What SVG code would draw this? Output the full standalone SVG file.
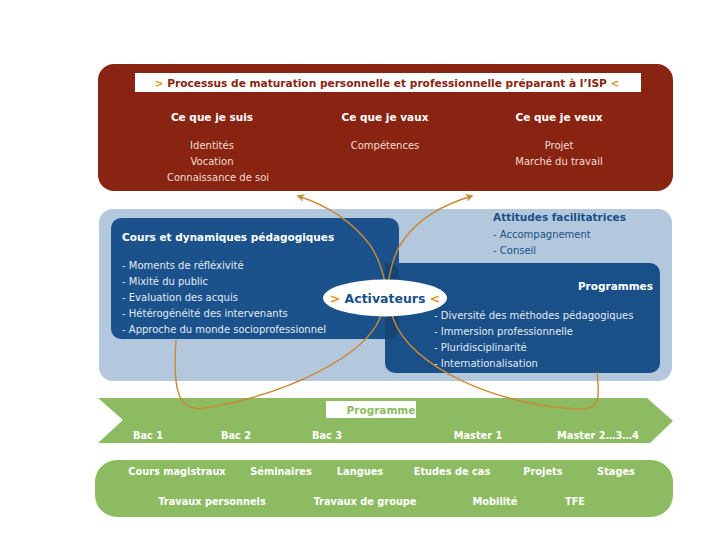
<svg xmlns="http://www.w3.org/2000/svg" width="720" height="540" viewBox="0 0 720 540">
<defs>
<marker id="arr" viewBox="0 0 10 10" refX="8" refY="5" markerWidth="8" markerHeight="8" markerUnits="userSpaceOnUse" orient="auto">
<path d="M0,0 L10,5 L0,10 L3,5 Z" fill="#c98a35"/>
</marker>
<style>
text{font-family:"DejaVu Sans","Verdana",sans-serif;}
.hb{font-weight:bold;font-size:10.5px;fill:#ffffff;}
.ir{font-size:10px;fill:#f2dcd2;}
.ib{font-size:10px;fill:#e2eaf3;}
.g{font-weight:bold;font-size:9.8px;fill:#ffffff;}
.or{fill:#e0962e;}
.curve{fill:none;stroke:#c98a35;stroke-width:1.4;}
</style>
</defs>
<rect width="720" height="540" fill="#ffffff"/>

<g id="maturation">
<rect x="98" y="64" width="575" height="127" rx="16" fill="#8a2412"/>
<rect x="135" y="73" width="506" height="19" fill="#ffffff"/>
<text x="387" y="87" text-anchor="middle" font-weight="bold" font-size="10.6" fill="#8a2412"><tspan class="or">&gt;</tspan> Processus de maturation personnelle et professionnelle préparant à l’ISP <tspan class="or">&lt;</tspan></text>
<text class="hb" x="212" y="121" text-anchor="middle">Ce que je suis</text>
<text class="hb" x="385" y="121" text-anchor="middle">Ce que je vaux</text>
<text class="hb" x="559" y="121" text-anchor="middle">Ce que je veux</text>
<text class="ir" x="212" y="149" text-anchor="middle">Identités</text>
<text class="ir" x="212" y="165" text-anchor="middle">Vocation</text>
<text class="ir" x="218" y="181" text-anchor="middle">Connaissance de soi</text>
<text class="ir" x="385" y="149" text-anchor="middle">Compétences</text>
<text class="ir" x="559" y="149" text-anchor="middle">Projet</text>
<text class="ir" x="559" y="165" text-anchor="middle">Marché du travail</text>
</g>

<g id="activateurs-zone">
<rect x="99" y="209" width="573" height="172" rx="14" fill="#b3c8dc"/>
</g>

<g id="attitudes">
<text x="493" y="221" font-weight="bold" font-size="10.5" fill="#1a5088">Attitudes facilitatrices</text>
<text x="493" y="238" font-size="10" fill="#1a5088">- Accompagnement</text>
<text x="493" y="254" font-size="10" fill="#1a5088">- Conseil</text>
</g>

<g id="programmes">
<rect x="385" y="263" width="275" height="110" rx="10" fill="#1a5088"/>
<text class="hb" x="653" y="290" text-anchor="end">Programmes</text>
<text class="ib" x="434" y="319">- Diversité des méthodes pédagogiques</text>
<text class="ib" x="434" y="335">- Immersion professionnelle</text>
<text class="ib" x="434" y="351">- Pluridisciplinarité</text>
<text class="ib" x="434" y="367">- Internationalisation</text>
</g>

<g id="cours">
<rect x="111" y="218" width="288" height="121" rx="10" fill="#1c528b"/>
<path d="M385,263 L389,263 A10,10 0 0 1 399,273 L399,329 A10,10 0 0 1 389,339 L385,339 Z" fill="#154475"/>
<text class="hb" x="122" y="241">Cours et dynamiques pédagogiques</text>
<text class="ib" x="122" y="269">- Moments de réfléxivité</text>
<text class="ib" x="122" y="285">- Mixité du public</text>
<text class="ib" x="122" y="301">- Evaluation des acquis</text>
<text class="ib" x="122" y="317">- Hétérogénéité des intervenants</text>
<text class="ib" x="122" y="333">- Approche du monde socioprofessionnel</text>
</g>

<g id="programme-band">
<path d="M98,398 L647,398 L673,421 L650,443 L98,443 L123,420 Z" fill="#8dbb62"/>
<rect x="326" y="401" width="90" height="17" fill="#ffffff"/>
<text x="381" y="414" text-anchor="middle" font-weight="bold" font-size="10.5" fill="#8dbb62">Programme</text>
<text class="g" x="148" y="439" text-anchor="middle">Bac 1</text>
<text class="g" x="236" y="439" text-anchor="middle">Bac 2</text>
<text class="g" x="327" y="439" text-anchor="middle">Bac 3</text>
<text class="g" x="478" y="439" text-anchor="middle">Master 1</text>
<text class="g" x="598" y="439" text-anchor="middle">Master 2…3…4</text>
</g>

<g id="methodes">
<rect x="95" y="460" width="578" height="57" rx="22" fill="#8dbb62"/>
<text class="g" x="177" y="475" text-anchor="middle">Cours magistraux</text>
<text class="g" x="281" y="475" text-anchor="middle">Séminaires</text>
<text class="g" x="360" y="475" text-anchor="middle">Langues</text>
<text class="g" x="452" y="475" text-anchor="middle">Etudes de cas</text>
<text class="g" x="543" y="475" text-anchor="middle">Projets</text>
<text class="g" x="616" y="475" text-anchor="middle">Stages</text>
<text class="g" x="212" y="505" text-anchor="middle">Travaux personnels</text>
<text class="g" x="365" y="505" text-anchor="middle">Travaux de groupe</text>
<text class="g" x="495" y="505" text-anchor="middle">Mobilité</text>
<text class="g" x="575" y="505" text-anchor="middle">TFE</text>
</g>

<g id="connectors">
<path class="curve" d="M176,340 C172,395 180,412 205,408 C290,394 365,355 380,318 C390,294 386,262 405,238 C420,218 445,204 472,196" marker-end="url(#arr)"/>
<path class="curve" d="M597,372 C600,400 600,410 578,409 C500,406 410,368 393,318 C386,296 386,268 370,245 C352,221 326,205 298,196" marker-end="url(#arr)"/>
</g>

<g id="activateurs">
<ellipse cx="385" cy="298" rx="62" ry="18.5" fill="#ffffff"/>
<text x="385" y="303" text-anchor="middle" font-weight="bold" font-size="12.5" fill="#1a5088"><tspan class="or">&gt;</tspan> Activateurs <tspan class="or">&lt;</tspan></text>
</g>
</svg>
